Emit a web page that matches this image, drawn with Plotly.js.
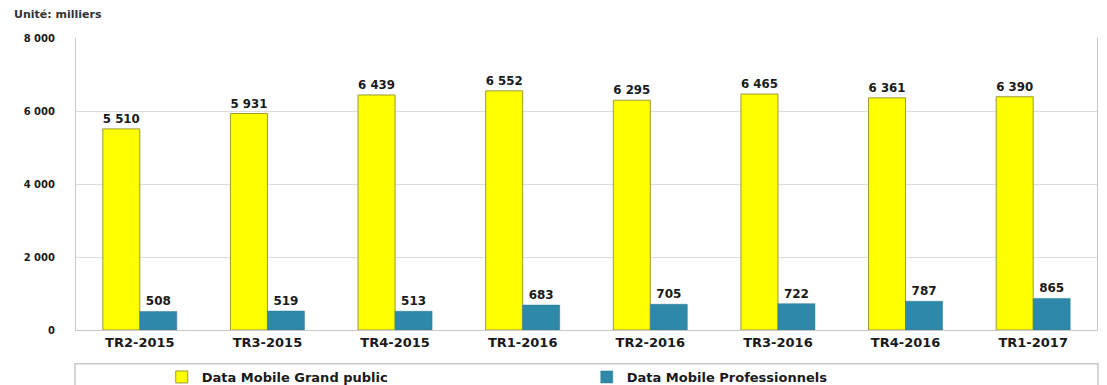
<!DOCTYPE html>
<html>
<head>
<meta charset="utf-8">
<script src="https://cdn.plot.ly/plotly-3.0.1.min.js"></script>
<style>html,body{margin:0;padding:0;background:#fff;}#chart{width:1107px;height:385px;}</style>
</head>
<body>
<div id="chart"></div>
<script>
const categories = ["TR2-2015","TR3-2015","TR4-2015","TR1-2016","TR2-2016","TR3-2016","TR4-2016","TR1-2017"];
const grandPublic = [5510,5931,6439,6552,6295,6465,6361,6390];
const professionnels = [508,519,513,683,705,722,787,865];
const seriesNames = ["Data Mobile Grand public","Data Mobile Professionnels"];
const yTicks = [0,2000,4000,6000,8000];
const fmt = v => String(v).replace(/\B(?=(\d{3})+(?!\d))/g, " ");

const fam = "DejaVu Sans, Verdana, sans-serif";
const traces = [
  {type:"bar", x:categories, y:grandPublic, name:seriesNames[0],
   marker:{color:"#FFFF00", line:{color:"#9a9a3a", width:1}},
   text:grandPublic.map(fmt), textposition:"outside", cliponaxis:false,
   textfont:{family:fam, size:12, color:"#1a1a1a", weight:"bold"}},
  {type:"bar", x:categories, y:professionnels, name:seriesNames[1],
   marker:{color:"#2E88A8", line:{color:"#2a7a96", width:0.5}},
   text:professionnels.map(fmt), textposition:"outside", cliponaxis:false,
   textfont:{family:fam, size:12, color:"#1a1a1a", weight:"bold"}}
];
const layout = {
  width:1107, height:385,
  margin:{l:76, r:10, t:38, b:55, autoexpand:false},
  paper_bgcolor:"#fff", plot_bgcolor:"#fff",
  barmode:"group", bargap:0.42, bargroupgap:0,
  font:{family:fam, size:10, color:"#1a1a1a"},
  showlegend:true,
  legend:{orientation:"h", x:0.084, xanchor:"left", y:-0.161, yanchor:"middle",
    entrywidth:380, entrywidthmode:"pixels", itemwidth:30,
    font:{family:fam, size:13, color:"#1a1a1a", weight:"bold"}, bgcolor:"rgba(0,0,0,0)"},
  xaxis:{type:"category", showgrid:false, showline:true, linecolor:"#c8c8c8", linewidth:1,
    ticks:"", tickfont:{family:fam, size:13, color:"#1a1a1a", weight:"bold"},
    fixedrange:true},
  yaxis:{range:[0,8000], tickvals:yTicks, ticktext:yTicks.map(fmt), showgrid:true,
    gridcolor:"#dcdcdc", gridwidth:1, showline:true, linecolor:"#c8c8c8", mirror:true,
    zeroline:false, ticks:"", ticklabelstandoff:18,
    tickfont:{family:fam, size:10, color:"#1a1a1a", weight:"bold"}},
  shapes:[{type:"rect", xref:"paper", yref:"paper", x0:-0.001, x1:1.001, y0:-0.116, y1:-0.21,
    line:{color:"#c8c8c8", width:1.5}, fillcolor:"rgba(0,0,0,0)"}],
  annotations:[{text:"Unité: milliers", xref:"paper", yref:"paper", x:-0.0627, y:1.079, xanchor:"left", yanchor:"middle",
    showarrow:false, font:{family:fam, size:11, color:"#333", weight:"bold"}}]
};
Plotly.newPlot("chart", traces, layout, {displayModeBar:false, staticPlot:true});
</script>
</body>
</html>
